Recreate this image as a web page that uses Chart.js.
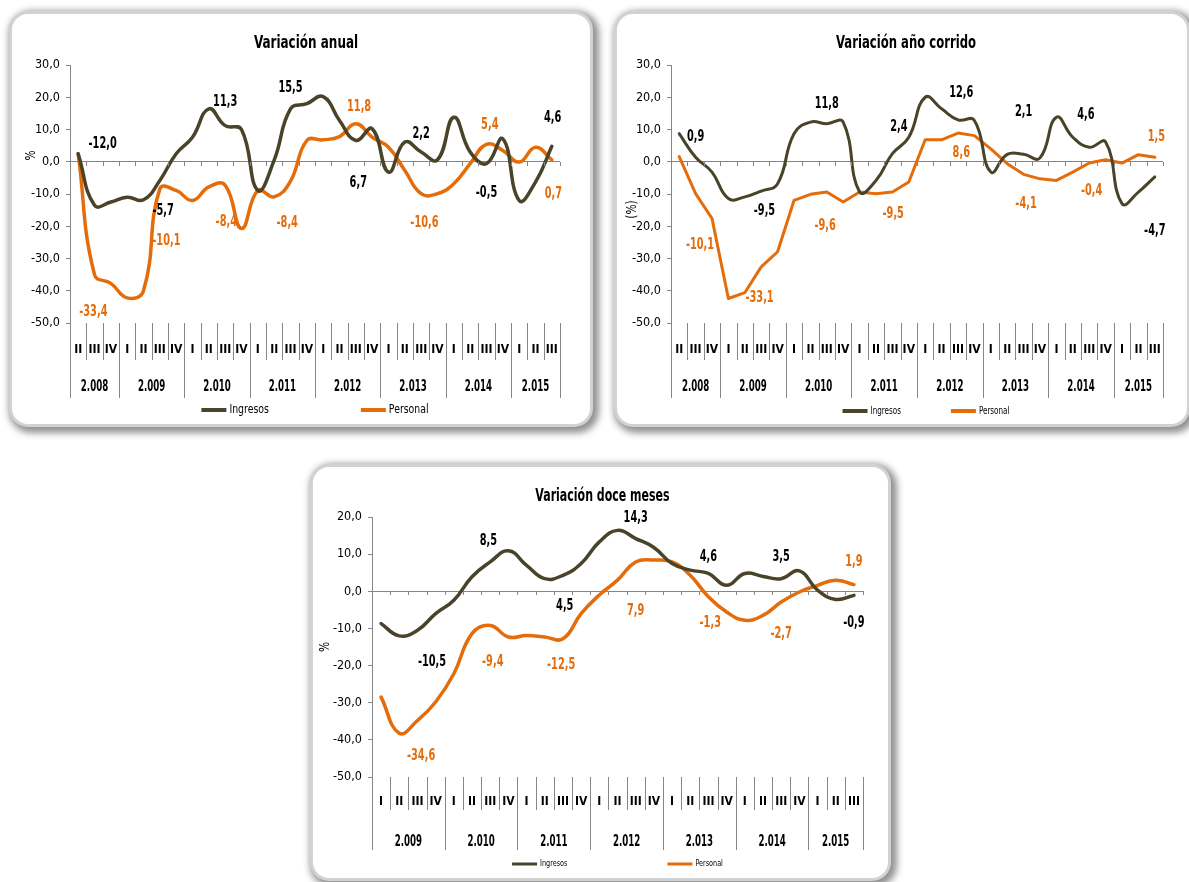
<!DOCTYPE html>
<html>
<head>
<meta charset="utf-8">
<script src="https://cdn.jsdelivr.net/npm/chart.js@4"></script>
<style>
  body { margin: 0; background: #fff; width: 1189px; height: 882px; position: relative; overflow: hidden; }
  .panel { position: absolute; background: #fff; border-radius: 16px;
           box-shadow: 0 0 0 3px #d2d2d2, 3px 3px 7px 6px #929292; }
  .panel canvas { display: block; }
</style>
</head>
<body>
<div class="panel" style="left:12px;top:14px;width:578px;height:410px"><canvas id="anual" width="578" height="410"></canvas></div>
<div class="panel" style="left:617px;top:14px;width:570px;height:410px"><canvas id="corrido" width="570" height="410"></canvas></div>
<div class="panel" style="left:313px;top:467px;width:575px;height:411px"><canvas id="doce" width="575" height="411"></canvas></div>
<script>
// trimestres 2008-II a 2015-III
const trimestres0815 = ["II", "III", "IV",
  "I", "II", "III", "IV", "I", "II", "III", "IV", "I", "II", "III", "IV",
  "I", "II", "III", "IV", "I", "II", "III", "IV", "I", "II", "III", "IV",
  "I", "II", "III"];
const anios0815 = ["2.008", "2.009", "2.010", "2.011", "2.012", "2.013", "2.014", "2.015"];
const trimPorAnio0815 = [3, 4, 4, 4, 4, 4, 4, 3];

// trimestres 2009-I a 2015-III
const trimestres0915 = ["I", "II", "III", "IV", "I", "II", "III", "IV", "I", "II", "III", "IV",
  "I", "II", "III", "IV", "I", "II", "III", "IV", "I", "II", "III", "IV", "I", "II", "III"];
const anios0915 = ["2.009", "2.010", "2.011", "2.012", "2.013", "2.014", "2.015"];
const trimPorAnio0915 = [4, 4, 4, 4, 4, 4, 3];

const ingresosAnual = [2.5, -13.5, -12.5, -11.0, -11.8, -5.8, 2.5, 7.6, 16.4, 11.2, 10.0, -8.9, 0.5, 16.4, 18.0,
  20.2, 12.8, 6.6, 10.2, -3.2, 6.1, 3.0, 0.6, 13.8, 3.0, -0.6, 7.1, -12.0, -6.3, 4.8];
const personalAnual = [2.5, -35.0, -37.7, -42.2, -40.0, -8.4, -8.9, -12.0, -7.8, -7.3, -20.7, -8.9, -10.9, -6.0, 6.6,
  6.8, 7.8, 11.8, 7.6, 4.5, -2.7, -9.9, -9.9, -6.8, -0.6, 5.4, 3.5, -0.1, 4.5, 0.6];

const ingresosCorrido = [8.7, 1.4, -3.2, -11.4, -10.9, -9.1, -6.8, 8.7, 12.3, 11.8, 12.3, -9.4, -5.8, 2.5, 7.6,
  20.0, 16.4, 13.0, 12.8, -3.2, 2.3, 2.3, 1.2, 13.8, 7.6, 4.5, 6.1, -13.0, -9.4, -4.7];
const personalCorrido = [1.6, -9.9, -17.6, -42.4, -40.6, -32.6, -27.9, -12.0, -10.1, -9.4, -12.5, -9.4, -9.9, -9.4, -6.3,
  6.8, 6.8, 8.9, 8.1, 4.0, -0.6, -3.9, -5.3, -5.8, -3.2, -0.4, 0.6, -0.4, 2.2, 1.4];

const ingresosDoce = [-8.7, -12.0, -10.5, -6.0, -2.4, 3.9, 7.9, 10.9, 7.0, 3.4, 4.3, 7.5, 13.3, 16.4,
  14.2, 11.8, 7.5, 5.7, 4.8, 1.6, 4.8, 4.0, 3.4, 5.5, 0.3, -2.2, -1.1];
const personalDoce = [-28.5, -38.2, -34.8, -29.8, -22.2, -11.4, -9.2, -12.3, -11.9, -12.3, -12.8, -6.0, -1.0, 3.0,
  7.9, 8.4, 7.9, 4.3, -1.5, -5.6, -7.8, -6.5, -2.9, -0.2, 1.6, 3.0, 1.8];

// etiquetas de datos: x = indice de trimestre, y = valor en el eje, s = serie (0 ingresos, 1 personal)
const notasAnual = [
  { x: 1.5, y: 5.6, t: "-12,0", s: 0 }, { x: 9.0, y: 18.5, t: "11,3", s: 0 },
  { x: 13.0, y: 22.9, t: "15,5", s: 0 }, { x: 5.2, y: -15.1, t: "-5,7", s: 0 },
  { x: 5.4, y: -24.4, t: "-10,1", s: 1 }, { x: 9.07, y: -18.7, t: "-8,4", s: 1 },
  { x: 12.8, y: -19.0, t: "-8,4", s: 1 }, { x: 0.93, y: -46.6, t: "-33,4", s: 1 },
  { x: 17.2, y: 16.9, t: "11,8", s: 1 }, { x: 17.15, y: -6.6, t: "6,7", s: 0 },
  { x: 21.0, y: 8.7, t: "2,2", s: 0 }, { x: 21.2, y: -19.0, t: "-10,6", s: 1 },
  { x: 25.2, y: 11.5, t: "5,4", s: 1 }, { x: 25.0, y: -9.7, t: "-0,5", s: 0 },
  { x: 29.05, y: 13.6, t: "4,6", s: 0 }, { x: 29.1, y: -10.1, t: "0,7", s: 1 }
];
const notasCorrido = [
  { x: 1.0, y: 7.6, t: "0,9", s: 0 }, { x: 1.27, y: -25.7, t: "-10,1", s: 1 },
  { x: 5.2, y: -15.1, t: "-9,5", s: 0 }, { x: 4.9, y: -42.2, t: "-33,1", s: 1 },
  { x: 9.0, y: 18.1, t: "11,8", s: 0 }, { x: 8.9, y: -19.9, t: "-9,6", s: 1 },
  { x: 13.4, y: 10.7, t: "2,4", s: 0 }, { x: 13.05, y: -16.1, t: "-9,5", s: 1 },
  { x: 17.2, y: 21.5, t: "12,6", s: 0 }, { x: 17.2, y: 2.7, t: "8,6", s: 1 },
  { x: 21.0, y: 15.6, t: "2,1", s: 0 }, { x: 21.15, y: -13.2, t: "-4,1", s: 1 },
  { x: 24.8, y: 14.6, t: "4,6", s: 0 }, { x: 25.15, y: -8.9, t: "-0,4", s: 1 },
  { x: 29.1, y: 7.6, t: "1,5", s: 1 }, { x: 29.0, y: -21.3, t: "-4,7", s: 0 }
];
const notasDoce = [
  { x: 5.9, y: 13.5, t: "8,5", s: 0 }, { x: 2.8, y: -18.9, t: "-10,5", s: 0 },
  { x: 2.2, y: -44.3, t: "-34,6", s: 1 }, { x: 6.14, y: -19.1, t: "-9,4", s: 1 },
  { x: 10.1, y: -3.8, t: "4,5", s: 0 }, { x: 9.9, y: -19.7, t: "-12,5", s: 1 },
  { x: 14.0, y: 19.9, t: "14,3", s: 0 }, { x: 14.0, y: -5.4, t: "7,9", s: 1 },
  { x: 18.0, y: 9.2, t: "4,6", s: 0 }, { x: 18.1, y: -8.6, t: "-1,3", s: 1 },
  { x: 22.0, y: 9.2, t: "3,5", s: 0 }, { x: 22.0, y: -11.5, t: "-2,7", s: 1 },
  { x: 26.0, y: 7.8, t: "1,9", s: 1 }, { x: 26.0, y: -8.6, t: "-0,9", s: 0 }
];

const FUENTE = "'Liberation Sans Narrow', 'Arial Narrow', 'DejaVu Sans Condensed', sans-serif";
const GRIS = "#868686";
const COLORES = ["#494429", "#E46C0A"];

Chart.defaults.font.family = FUENTE;
Chart.defaults.color = "#000";

// el original usa una letra muy estrecha: se comprime el texto a lo ancho
function textoEstrecho(ctx, texto, x, y, sx) {
  ctx.save();
  ctx.translate(x, y);
  ctx.scale(sx, 1);
  ctx.fillText(texto, 0, 0);
  ctx.restore();
}

// titulo, eje de categorias en dos niveles, leyenda, titulo del eje y etiquetas
const decoracion = {
  id: "decoracion",
  afterDraw(chart, args, o) {
    const { ctx, chartArea: ca, scales: { x, y } } = chart;
    const n = chart.data.labels.length;
    ctx.save();
    ctx.textBaseline = "middle";

    // titulo
    ctx.fillStyle = "#000";
    ctx.font = "bold 18px " + FUENTE;
    ctx.textAlign = "center";
    textoEstrecho(ctx, o.title, (ca.left + ca.right) / 2 + o.titleShift, o.titleY, o.titleScale);

    ctx.strokeStyle = GRIS;
    ctx.lineWidth = 1;

    // marcas sobre la linea de cero
    const y0 = Math.round(y.getPixelForValue(0));
    ctx.beginPath();
    for (let i = 1; i <= n; i++) {
      const px = Math.round(x.getPixelForValue(i - 0.5)) + 0.5;
      ctx.moveTo(px, y0);
      ctx.lineTo(px, y0 + 4);
    }
    ctx.stroke();

    // separadores de trimestres y anios
    const limites = [0];
    o.spans.forEach((s) => limites.push(limites[limites.length - 1] + s));
    ctx.beginPath();
    for (let i = 0; i <= n; i++) {
      const px = Math.round(x.getPixelForValue(i - 0.5)) + 0.5;
      const largo = limites.includes(i) ? o.yearSep : o.quarterSep;
      ctx.moveTo(px, ca.bottom);
      ctx.lineTo(px, ca.bottom + largo);
    }
    ctx.stroke();

    ctx.font = "bold 15px " + FUENTE;
    o.years.forEach((a, k) => {
      const cx = (x.getPixelForValue(limites[k] - 0.5) + x.getPixelForValue(limites[k + 1] - 0.5)) / 2;
      textoEstrecho(ctx, a, cx, ca.bottom + o.yearOffset, 0.64);
    });

    // titulo del eje y
    ctx.save();
    ctx.font = "14px " + FUENTE;
    ctx.translate(o.yTitle.x, ca.top + (ca.bottom - ca.top) * o.yTitle.frac);
    ctx.rotate(-Math.PI / 2);
    ctx.scale(0.85, 1);
    ctx.fillText(o.yTitle.text, 0, 0);
    ctx.restore();

    // leyenda
    const lg = o.legend;
    ctx.font = lg.size + "px " + FUENTE;
    const items = chart.data.datasets.map((d) => ({
      text: d.label, color: d.borderColor, w: lg.line + 3 + ctx.measureText(d.label).width * 0.8
    }));
    const total = items.reduce((s, it) => s + it.w, 0) + lg.gap * (items.length - 1);
    let cx = (ca.left + ca.right) / 2 - total / 2 + lg.shift;
    const ly = chart.height - lg.bottom;
    ctx.textAlign = "left";
    items.forEach((it) => {
      ctx.strokeStyle = it.color;
      ctx.lineWidth = lg.width;
      ctx.beginPath();
      ctx.moveTo(cx, ly);
      ctx.lineTo(cx + lg.line, ly);
      ctx.stroke();
      ctx.fillStyle = "#000";
      textoEstrecho(ctx, it.text, cx + lg.line + 3, ly, 0.8);
      cx += it.w + lg.gap;
    });

    // etiquetas de datos
    ctx.font = "bold 16px " + FUENTE;
    ctx.textAlign = "center";
    o.notes.forEach((nt) => {
      ctx.fillStyle = nt.s === 0 ? "#000" : COLORES[1];
      textoEstrecho(ctx, nt.t, x.getPixelForValue(nt.x), y.getPixelForValue(nt.y), 0.68);
    });
    ctx.restore();
  }
};

function crearGrafico(id, cfg) {
  return new Chart(document.getElementById(id), {
    type: "line",
    data: {
      labels: cfg.trimestres,
      datasets: [
        {
          label: "Ingresos",
          data: cfg.ingresos,
          borderColor: COLORES[0],
          borderWidth: cfg.ancho,
          tension: 0.45,
          pointRadius: 0,
          borderCapStyle: "round",
          borderJoinStyle: "round",
        },
        {
          label: "Personal",
          data: cfg.personal,
          borderColor: COLORES[1],
          borderWidth: cfg.ancho,
          tension: cfg.tensionPersonal,
          pointRadius: 0,
          borderCapStyle: "round",
          borderJoinStyle: "round",
        },
      ],
    },
    options: {
      responsive: false,
      animation: false,
      layout: { padding: cfg.padding },
      plugins: {
        legend: { display: false },
        tooltip: { enabled: false },
        title: { display: false },
        decoracion: Object.assign({ title: cfg.titulo }, cfg.decoracion),
      },
      scales: {
        x: {
          offset: true,
          grid: { display: false, drawTicks: false },
          border: { display: false },
          ticks: {
            autoSkip: false,
            maxRotation: 0,
            padding: cfg.padTrimestre,
            color: "#000",
            font: { size: 12, weight: "bold" },
          },
          afterFit: (s) => { s.height = 80; },
        },
        y: {
          min: cfg.min,
          max: cfg.max,
          ticks: {
            stepSize: 10,
            padding: 6,
            color: "#000",
            font: { size: 12.5 },
            callback: (v) => v.toFixed(1).replace(".", ","),
          },
          grid: {
            color: (c) => (c.tick && c.tick.value === 0 ? GRIS : "rgba(0,0,0,0)"),
            tickColor: GRIS,
            tickLength: 4,
          },
          border: { display: true, color: GRIS },
          afterFit: (s) => { s.width = cfg.anchoEjeY; },
        },
      },
    },
    plugins: [decoracion],
  });
}

crearGrafico("anual", {
  titulo: "Variación anual",
  trimestres: trimestres0815,
  ingresos: ingresosAnual,
  personal: personalAnual,
  ancho: 3.5,
  tensionPersonal: 0.45,
  min: -50, max: 30,
  padding: { left: 8, right: 30, top: 51, bottom: 21 },
  anchoEjeY: 50,
  padTrimestre: 20,
  decoracion: {
    titleY: 29, titleShift: -9, titleScale: 0.74,
    years: anios0815, spans: trimPorAnio0815, quarterSep: 37, yearSep: 75, yearOffset: 64,
    yTitle: { text: "%", x: 19, frac: 0.35 },
    legend: { size: 13, line: 25, width: 4, gap: 92, bottom: 14, shift: 0 },
    notes: notasAnual,
  },
});

crearGrafico("corrido", {
  titulo: "Variación año corrido",
  trimestres: trimestres0815,
  ingresos: ingresosCorrido,
  personal: personalCorrido,
  ancho: 3,
  tensionPersonal: 0,
  min: -50, max: 30,
  padding: { left: 8, right: 24, top: 51, bottom: 21 },
  anchoEjeY: 46,
  padTrimestre: 20,
  decoracion: {
    titleY: 29, titleShift: -11, titleScale: 0.72,
    years: anios0815, spans: trimPorAnio0815, quarterSep: 37, yearSep: 75, yearOffset: 64,
    yTitle: { text: "(%)", x: 15, frac: 0.56 },
    legend: { size: 10, line: 25, width: 4, gap: 50, bottom: 13, shift: 9 },
    notes: notasCorrido,
  },
});

crearGrafico("doce", {
  titulo: "Variación doce meses",
  trimestres: trimestres0915,
  ingresos: ingresosDoce,
  personal: personalDoce,
  ancho: 3.5,
  tensionPersonal: 0.45,
  min: -50, max: 20,
  padding: { left: 9, right: 25, top: 50, bottom: 21 },
  anchoEjeY: 50,
  padTrimestre: 18,
  decoracion: {
    titleY: 29, titleShift: -15, titleScale: 0.68,
    years: anios0915, spans: trimPorAnio0915, quarterSep: 33, yearSep: 73, yearOffset: 65,
    yTitle: { text: "%", x: 12, frac: 0.5 },
    legend: { size: 9, line: 25, width: 3, gap: 100, bottom: 14, shift: 0 },
    notes: notasDoce,
  },
});
</script>
</body>
</html>
